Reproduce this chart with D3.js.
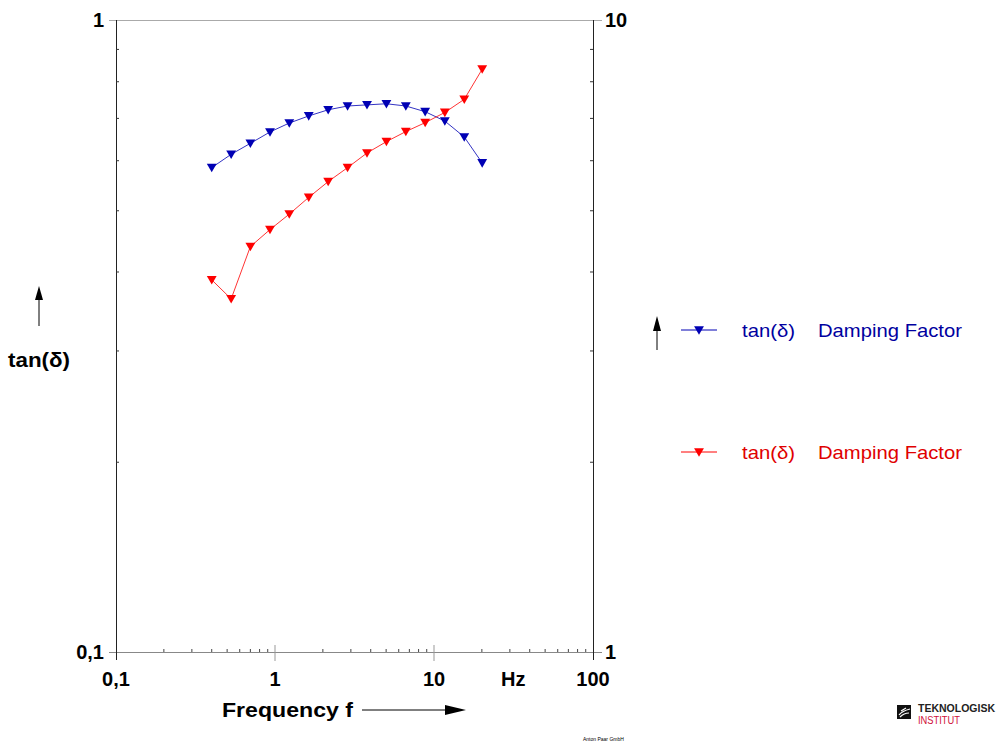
<!DOCTYPE html>
<html>
<head>
<meta charset="utf-8">
<script src="https://cdn.jsdelivr.net/npm/d3@7"></script>
<style>
  body { margin: 0; background: #fff; }
  svg { display: block; font-family: "Liberation Sans", Arial, sans-serif; }
</style>
</head>
<body>
<script>
// frequency in Hz
var freq = [0.4, 0.53, 0.7, 0.93, 1.23, 1.63, 2.16, 2.86, 3.79, 5.02, 6.65, 8.8, 11.7, 15.5, 20.1];
// tan(delta), left axis
var tanBlue = [0.584, 0.613, 0.638, 0.665, 0.687, 0.705, 0.721, 0.731, 0.734, 0.737, 0.731, 0.716, 0.692, 0.653, 0.594];
// damping factor, right axis
var tanRed = [3.88, 3.62, 4.38, 4.66, 4.93, 5.24, 5.55, 5.84, 6.16, 6.42, 6.66, 6.88, 7.14, 7.49, 8.36];

var xTicks = [0.1, 1, 10, 100];
var xTickLabels = ["0,1", "1", "10", "100"];
var yLeftTicks = [0.1, 1];
var yLeftLabels = ["0,1", "1"];
var yRightTicks = [1, 10];
var yRightLabels = ["1", "10"];
var legendNames = ["tan(\u03b4)", "tan(\u03b4)"];
var legendDesc = ["Damping Factor", "Damping Factor"];

var W = 997, H = 742;
var pLeft = 116, pRight = 593, pTop = 20, pBottom = 652;
var blue = "#0000b4", red = "#ff0000";

var svg = d3.select("body").append("svg").attr("width", W).attr("height", H);

var x = d3.scaleLog().domain([0.1, 100]).range([pLeft, pRight]);
var yL = d3.scaleLog().domain([0.1, 1]).range([pBottom, pTop]);
var yR = d3.scaleLog().domain([1, 10]).range([pBottom, pTop]);

// minor ticks
var minorX = x.ticks().filter(function(d) { return xTicks.indexOf(d) < 0; });
var minorY = yL.ticks().filter(function(d) { return yLeftTicks.indexOf(d) < 0; });

// horizontal frame lines (grey)
svg.append("line").attr("x1", pLeft - 7).attr("x2", pRight + 9).attr("y1", pTop + 0.5).attr("y2", pTop + 0.5)
  .attr("stroke", "#aaa").attr("stroke-width", 1);
svg.append("line").attr("x1", pLeft - 7).attr("x2", pRight + 9).attr("y1", pBottom + 0.5).attr("y2", pBottom + 0.5)
  .attr("stroke", "#888").attr("stroke-width", 1);

// bottom axis ticks
svg.selectAll(".xminor").data(minorX).enter().append("line")
  .attr("x1", function(d) { return x(d); }).attr("x2", function(d) { return x(d); })
  .attr("y1", pBottom).attr("y2", pBottom - 3).attr("stroke", "#444");
svg.selectAll(".xmajor").data([1, 10]).enter().append("line")
  .attr("x1", function(d) { return x(d); }).attr("x2", function(d) { return x(d); })
  .attr("y1", pBottom - 7).attr("y2", pBottom + 9).attr("stroke", "#999");

// vertical axes
var axL = svg.append("g").attr("transform", "translate(" + pLeft + ",0)")
  .call(d3.axisRight(yL).tickValues(minorY).tickSize(3).tickFormat(""));
var axR = svg.append("g").attr("transform", "translate(" + pRight + ",0)")
  .call(d3.axisLeft(yR).tickValues(minorY.map(function(d) { return d * 10; })).tickSize(3).tickFormat(""));
[axL, axR].forEach(function(a) {
  a.select(".domain").attr("stroke", "#222").attr("d", "M0.5," + pTop + "V" + (pBottom + 8));
  a.selectAll(".tick line").attr("stroke", "#333");
});

// tick labels
var lbl = { "font-size": "20px", "font-weight": "bold", "fill": "#000" };
function style(sel) { for (var k in lbl) sel.attr(k, lbl[k]); return sel; }
style(svg.selectAll(".xl").data(xTicks).enter().append("text")
  .attr("x", function(d) { return x(d); }).attr("y", 686)
  .attr("text-anchor", "middle").text(function(d, i) { return xTickLabels[i]; }));
style(svg.selectAll(".yl").data(yLeftTicks).enter().append("text")
  .attr("x", pLeft - 12).attr("y", function(d) { return yL(d) + 7; })
  .attr("text-anchor", "end").text(function(d, i) { return yLeftLabels[i]; }));
style(svg.selectAll(".yr").data(yRightTicks).enter().append("text")
  .attr("x", pRight + 12).attr("y", function(d) { return yR(d) + 7; })
  .attr("text-anchor", "start").text(function(d, i) { return yRightLabels[i]; }));
style(svg.append("text").attr("x", 501).attr("y", 686).text("Hz"));

// axis titles
style(svg.append("text").attr("x", 222).attr("y", 717).attr("textLength", 131)
  .attr("lengthAdjust", "spacingAndGlyphs").text("Frequency f"));
svg.append("line").attr("x1", 362).attr("x2", 446).attr("y1", 710).attr("y2", 710).attr("stroke", "#000");
svg.append("path").attr("d", "M445,705L466,710L445,715Z").attr("fill", "#000");

style(svg.append("text").attr("x", 8).attr("y", 367).attr("textLength", 62)
  .attr("lengthAdjust", "spacingAndGlyphs").text("tan(\u03b4)"));
svg.append("line").attr("x1", 39).attr("x2", 39).attr("y1", 300).attr("y2", 326).attr("stroke", "#000");
svg.append("path").attr("d", "M35,300L39,286L43,300Z").attr("fill", "#000");

// series
var tri = d3.symbol().type(d3.symbolTriangle).size(42);
function series(vals, y, color) {
  var pts = freq.map(function(f, i) { return [x(f), y(vals[i])]; });
  svg.append("path").attr("d", d3.line()(pts))
    .attr("fill", "none").attr("stroke", color).attr("stroke-width", 1).attr("stroke-opacity", 0.8);
  svg.selectAll(null).data(pts).enter().append("path")
    .attr("d", tri).attr("fill", color)
    .attr("transform", function(p) { return "translate(" + p[0] + "," + (p[1] - 1) + ") rotate(180)"; });
}
series(tanBlue, yL, blue);
series(tanRed, yR, red);

// legend
var legY = [330, 452], legCol = [blue, red];
svg.append("line").attr("x1", 657).attr("x2", 657).attr("y1", 328).attr("y2", 350).attr("stroke", "#000");
svg.append("path").attr("d", "M653,331L657,316L661,331Z").attr("fill", "#000");
legY.forEach(function(yy, i) {
  svg.append("line").attr("x1", 681).attr("x2", 717).attr("y1", yy).attr("y2", yy).attr("stroke", legCol[i]);
  svg.append("path").attr("d", tri).attr("fill", legCol[i])
    .attr("transform", "translate(699," + (yy - 1) + ") rotate(180)");
  svg.append("text").attr("x", 742).attr("y", yy + 7).attr("font-size", "19px")
    .attr("fill", i ? "#e00000" : "#0000a0").attr("textLength", 53)
    .attr("lengthAdjust", "spacingAndGlyphs").text(legendNames[i]);
  svg.append("text").attr("x", 818).attr("y", yy + 7).attr("font-size", "19px")
    .attr("fill", i ? "#e00000" : "#0000a0").attr("textLength", 144)
    .attr("lengthAdjust", "spacingAndGlyphs").text(legendDesc[i]);
});

// footer
svg.append("text").attr("x", 583).attr("y", 741).attr("font-size", "5px").attr("fill", "#000").text("Anton Paar GmbH");
var logo = svg.append("g").attr("transform", "translate(897,705)");
logo.append("rect").attr("width", 14).attr("height", 14).attr("fill", "#111");
logo.append("path").attr("d", "M2,10 C5,6 9,5 13,4 M3,12 C6,9 9,8 12,8 M4,6 L9,3")
  .attr("stroke", "#fff").attr("stroke-width", 1.2).attr("fill", "none");
logo.append("text").attr("x", 21).attr("y", 7).attr("font-size", "10px").attr("font-weight", "bold")
  .attr("fill", "#222").attr("textLength", 77).attr("lengthAdjust", "spacingAndGlyphs").text("TEKNOLOGISK");
logo.append("text").attr("x", 21).attr("y", 19).attr("font-size", "10px")
  .attr("fill", "#d0103a").attr("textLength", 42).attr("lengthAdjust", "spacingAndGlyphs").text("INSTITUT");
</script>
</body>
</html>
